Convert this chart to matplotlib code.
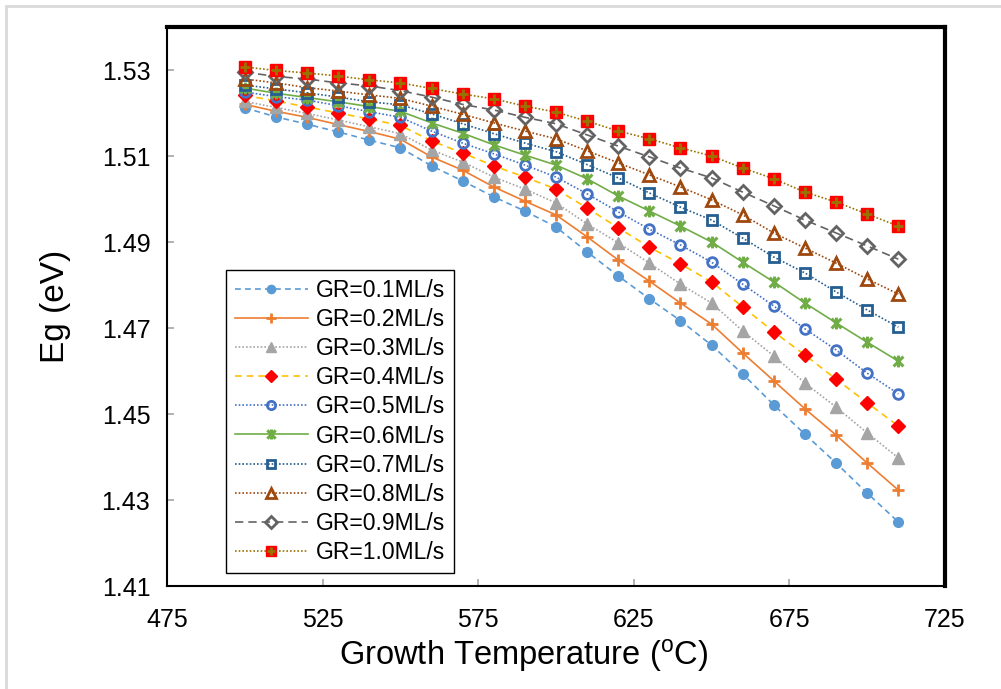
import matplotlib
matplotlib.use("Agg")
import matplotlib.pyplot as plt
from matplotlib.path import Path
from matplotlib.patches import Rectangle
from matplotlib.legend_handler import HandlerTuple

plt.rcParams['font.family'] = ['Liberation Sans', 'DejaVu Sans']
plt.rcParams['mathtext.fontset'] = 'custom'
plt.rcParams['mathtext.rm'] = 'Liberation Sans'

# growth temperature (C)
temps = [500, 510, 520, 530, 540, 550, 560, 570, 580, 590, 600,
         610, 620, 630, 640, 650, 660, 670, 680, 690, 700, 710]

# band gap Eg (eV) for each growth rate
gr01 = [1.5212, 1.5191, 1.5174, 1.5156, 1.5137, 1.5119, 1.5077, 1.5042, 1.5005, 1.4972, 1.4935,
        1.4877, 1.4821, 1.4768, 1.4717, 1.4660, 1.4593, 1.4521, 1.4453, 1.4386, 1.4316, 1.4249]
gr02 = [1.5220, 1.5204, 1.5190, 1.5173, 1.5157, 1.5139, 1.5098, 1.5067, 1.5028, 1.4995, 1.4963,
        1.4912, 1.4858, 1.4809, 1.4758, 1.4709, 1.4642, 1.4577, 1.4512, 1.4451, 1.4386, 1.4323]
gr03 = [1.5227, 1.5213, 1.5199, 1.5184, 1.5168, 1.5152, 1.5114, 1.5086, 1.5051, 1.5023, 1.4991,
        1.4942, 1.4898, 1.4851, 1.4802, 1.4758, 1.4693, 1.4635, 1.4572, 1.4516, 1.4456, 1.4398]
gr04 = [1.5241, 1.5228, 1.5214, 1.5200, 1.5186, 1.5171, 1.5135, 1.5107, 1.5077, 1.5051, 1.5023,
        1.4979, 1.4933, 1.4888, 1.4849, 1.4807, 1.4749, 1.4691, 1.4637, 1.4581, 1.4526, 1.4472]
gr05 = [1.5249, 1.5238, 1.5230, 1.5217, 1.5203, 1.5190, 1.5158, 1.5130, 1.5105, 1.5079, 1.5051,
        1.5012, 1.4970, 1.4930, 1.4893, 1.4853, 1.4802, 1.4751, 1.4698, 1.4649, 1.4595, 1.4547]
gr06 = [1.5258, 1.5246, 1.5236, 1.5226, 1.5215, 1.5204, 1.5177, 1.5153, 1.5126, 1.5102, 1.5079,
        1.5047, 1.5007, 1.4972, 1.4937, 1.4900, 1.4853, 1.4807, 1.4758, 1.4712, 1.4667, 1.4623]
gr07 = [1.5265, 1.5256, 1.5247, 1.5237, 1.5226, 1.5219, 1.5198, 1.5175, 1.5152, 1.5130, 1.5110,
        1.5080, 1.5049, 1.5014, 1.4981, 1.4951, 1.4909, 1.4865, 1.4828, 1.4784, 1.4742, 1.4702]
gr08 = [1.5279, 1.5270, 1.5259, 1.5251, 1.5242, 1.5234, 1.5216, 1.5197, 1.5177, 1.5158, 1.5140,
        1.5112, 1.5084, 1.5056, 1.5028, 1.4998, 1.4963, 1.4921, 1.4886, 1.4851, 1.4814, 1.4779]
gr09 = [1.5295, 1.5285, 1.5279, 1.5270, 1.5263, 1.5252, 1.5237, 1.5220, 1.5207, 1.5190, 1.5175,
        1.5149, 1.5123, 1.5098, 1.5072, 1.5049, 1.5016, 1.4984, 1.4951, 1.4921, 1.4891, 1.4860]
gr10 = [1.5307, 1.5299, 1.5293, 1.5286, 1.5277, 1.5270, 1.5257, 1.5244, 1.5233, 1.5216, 1.5202,
        1.5181, 1.5158, 1.5140, 1.5119, 1.5100, 1.5072, 1.5047, 1.5016, 1.4993, 1.4965, 1.4937]

labels = ["GR=0.1ML/s", "GR=0.2ML/s", "GR=0.3ML/s", "GR=0.4ML/s", "GR=0.5ML/s",
          "GR=0.6ML/s", "GR=0.7ML/s", "GR=0.8ML/s", "GR=0.9ML/s", "GR=1.0ML/s"]
xticks = [475, 525, 575, 625, 675, 725]
yticks = [1.41, 1.43, 1.45, 1.47, 1.49, 1.51, 1.53]

# excel style "star" marker: an x with a vertical bar
star = Path([(-1, -1), (1, 1), (-1, 1), (1, -1), (0, -1.2), (0, 1.2)],
            [Path.MOVETO, Path.LINETO, Path.MOVETO, Path.LINETO, Path.MOVETO, Path.LINETO])

dash = (0, (3.5, 2.5))
dot = (0, (1, 1.2))

styles = [
    dict(color="#5B9BD5", ls=dash, marker="o", ms=7, mfc="#5B9BD5", mec="#5B9BD5"),
    dict(color="#ED7D31", ls="-", marker="+", ms=9, mew=2, mec="#ED7D31"),
    dict(color="#A5A5A5", ls=dot, marker="^", ms=8.5, mfc="#A5A5A5", mec="#A5A5A5"),
    dict(color="#FFC000", ls=(0, (4, 3)), marker="D", ms=7, mfc="#FF0000", mec="#FF0000"),
    dict(color="#4472C4", ls=dot, marker="o", ms=7, mfc="none", mec="#4472C4", mew=2),
    dict(color="#70AD47", ls="-", marker=star, ms=8.5, mfc="none", mec="#70AD47", mew=2.2),
    dict(color="#255E91", ls=dot, marker="s", ms=7, mfc="none", mec="#255E91", mew=2),
    dict(color="#9E480E", ls=dot, marker="^", ms=9, mfc="none", mec="#9E480E", mew=2),
    dict(color="#636363", ls=(0, (5, 3)), marker="D", ms=7, mfc="none", mec="#636363", mew=2),
    dict(color="#997300", ls=dot, marker="s", ms=8, mfc="#FF0000", mec="#FF0000"),
]
series = [gr01, gr02, gr03, gr04, gr05, gr06, gr07, gr08, gr09, gr10]

fig = plt.figure(figsize=(10.01, 6.89), dpi=100)
ax = fig.add_axes([167 / 1001, 1 - 586 / 689, (945 - 167) / 1001, (586 - 27) / 689])

handles = []
for vals, st in zip(series, styles):
    h, = ax.plot(temps, vals, lw=1.2, **st)
    handles.append(h)

# olive cross on top of the red squares of the last series
cross, = ax.plot(temps, gr10, ls="none", marker="+", ms=7.5, mew=2, color="#997300")
handles[-1] = (handles[-1], cross)

ax.set_xlim(475, 725)
ax.set_ylim(1.41, 1.54)
ax.set_xticks(xticks)
ax.set_yticks(yticks)
ax.set_yticklabels([f"{v:.2f}" for v in yticks])
ax.tick_params(direction="in", length=5, width=1.2, color="#a6a6a6",
               labelsize=18, pad=12, labelcolor="black")
ax.tick_params(axis="x", pad=16)

for side in ["left", "bottom"]:
    ax.spines[side].set_linewidth(1.5)
for side in ["top", "right"]:
    ax.spines[side].set_linewidth(3)

ax.set_xlabel("Growth Temperature ($\\mathregular{^{o}}$C)", fontsize=23.5)
ax.xaxis.set_label_coords(0.459, -0.091, transform=ax.transAxes)
ax.xaxis.label.set_va("top")
ax.set_ylabel("Eg (eV)", fontsize=24, labelpad=22)

ax.legend(handles, labels, loc="lower left", bbox_to_anchor=(0.0758, 0.0233),
          borderaxespad=0, fontsize=16.5, frameon=True, fancybox=False,
          edgecolor="black", framealpha=1, handlelength=3.2, handletextpad=0.35,
          labelspacing=0.27, borderpad=0.38, markerscale=0.85,
          handler_map={tuple: HandlerTuple(ndivide=1)})
ax.get_legend().get_frame().set_linewidth(1.0)

# light grey chart-area border
fig.patches.append(Rectangle((6 / 1001, -0.05), 1.1, 1 - 6 / 689 + 0.05,
                             transform=fig.transFigure, fill=False,
                             edgecolor="#d9d9d9", lw=2))

fig.savefig("out.png", dpi=100)
